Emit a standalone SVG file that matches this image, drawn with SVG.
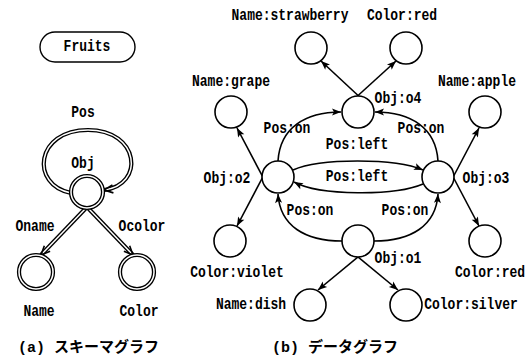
<svg xmlns="http://www.w3.org/2000/svg" width="532" height="363" viewBox="0 0 532 363">
<style>
text{font-family:"Liberation Mono","DejaVu Sans Mono",monospace;font-size:13px;font-weight:bold;fill:#000;text-anchor:middle;dominant-baseline:central}
.cap{font-family:"Liberation Mono","Noto Sans CJK JP",monospace;font-size:15px;font-weight:bold;text-anchor:start}
.n{fill:#fff;stroke:#000;stroke-width:1.6}
.dk{fill:none;stroke:#000;stroke-width:4.2}
.dw{fill:none;stroke:#fff;stroke-width:1.5}
.e{fill:none;stroke:#000;stroke-width:1.6}
</style>
<defs>
<marker id="a" markerUnits="userSpaceOnUse" markerWidth="20" markerHeight="20" viewBox="-10 -10 20 20" refX="0" refY="0" orient="auto" overflow="visible">
<path d="M-9,-3.5 L0,0 L-9,3.5 L-7,0 z" fill="#000"/>
</marker>
<marker id="v" markerUnits="userSpaceOnUse" markerWidth="20" markerHeight="20" viewBox="-10 -10 20 20" refX="0" refY="0" orient="auto" overflow="visible">
<path d="M-9,-4 L0,0 L-9,4" fill="none" stroke="#000" stroke-width="1.6"/>
</marker>
</defs>

<!-- (a) schema graph -->
<g id="fruits">
<rect x="40" y="32" width="95" height="30" rx="15" ry="15" fill="none" stroke="#000" stroke-width="1.4"/>
<text transform="translate(87,47) scale(1,1.3)">Fruits</text>
</g>
<g id="schema-connectors">
<path class="dk" d="M71,193 C 30,185 35,130 88,130 C 140,130 145,185 104,190"/>
<path class="dw" d="M71,193 C 30,185 35,130 88,130 C 140,130 145,185 104,190" marker-end="url(#v)"/>
<path class="dk" d="M86,208 L41,255"/>
<path class="dw" d="M86,208 L41,255" marker-end="url(#v)"/>
<path class="dk" d="M88,208 L133,255"/>
<path class="dw" d="M88,208 L133,255" marker-end="url(#v)"/>
<text transform="translate(83,113) scale(1,1.3)">Pos</text>
<text transform="translate(35,227) scale(1,1.3)">Oname</text>
<text transform="translate(142,227) scale(1,1.3)">Ocolor</text>
</g>
<g id="obj">
<circle cx="87" cy="192" r="16" fill="#fff" class="dk"/>
<circle cx="87" cy="192" r="16" class="dw"/>
<text transform="translate(83,164) scale(1,1.3)">Obj</text>
</g>
<g id="name">
<circle cx="36" cy="272" r="17" fill="#fff" class="dk"/>
<circle cx="36" cy="272" r="17" class="dw"/>
<text transform="translate(39,312) scale(1,1.3)">Name</text>
</g>
<g id="color">
<circle cx="137" cy="272" r="17" fill="#fff" class="dk"/>
<circle cx="137" cy="272" r="17" class="dw"/>
<text transform="translate(139,312) scale(1,1.3)">Color</text>
</g>
<text class="cap" x="18" y="348">(a) スキーマグラフ</text>

<!-- (b) data graph -->
<g id="connectors">
<path class="e" d="M364,101 L321,61" marker-end="url(#a)"/>
<path class="e" d="M352,101 L396,61" marker-end="url(#a)"/>
<path class="e" d="M266,183 L237,128" marker-end="url(#a)"/>
<path class="e" d="M266,171 L237,226" marker-end="url(#a)"/>
<path class="e" d="M450,183 L479,128" marker-end="url(#a)"/>
<path class="e" d="M450,171 L479,226" marker-end="url(#a)"/>
<path class="e" d="M364,252 L318,290" marker-end="url(#a)"/>
<path class="e" d="M352,252 L398,290" marker-end="url(#a)"/>
<path class="e" d="M278,161 C 280,128 305,112 341,112" marker-end="url(#a)"/>
<path class="e" d="M438,161 C 436,128 411,112 375,112" marker-end="url(#a)"/>
<path class="e" d="M342,241 C 305,241 280,226 278,194" marker-end="url(#a)"/>
<path class="e" d="M374,241 C 411,241 436,226 438,194" marker-end="url(#a)"/>
<path class="e" d="M293,170 C 320,158 395,158 423,170" marker-end="url(#a)"/>
<path class="e" d="M423,184 C 395,196 320,196 294,182" marker-end="url(#a)"/>
<text transform="translate(287,129) scale(1,1.3)">Pos:on</text>
<text transform="translate(421,129) scale(1,1.3)">Pos:on</text>
<text transform="translate(357,145) scale(1,1.3)">Pos:left</text>
<text transform="translate(357,177) scale(1,1.3)">Pos:left</text>
<text transform="translate(310,211) scale(1,1.3)">Pos:on</text>
<text transform="translate(405,211) scale(1,1.3)">Pos:on</text>
</g>
<g id="strawberry">
<circle class="n" cx="311" cy="48" r="16"/>
<text transform="translate(290,16) scale(1,1.3)">Name:strawberry</text>
</g>
<g id="red-top">
<circle class="n" cx="406" cy="48" r="16"/>
<text transform="translate(402,16) scale(1,1.3)">Color:red</text>
</g>
<g id="grape">
<circle class="n" cx="231" cy="112" r="16"/>
<text transform="translate(231,82) scale(1,1.3)">Name:grape</text>
</g>
<g id="o4">
<circle class="n" cx="358" cy="112" r="16"/>
<text transform="translate(398,99) scale(1,1.3)">Obj:o4</text>
</g>
<g id="apple">
<circle class="n" cx="485" cy="112" r="16"/>
<text transform="translate(477,82) scale(1,1.3)">Name:apple</text>
</g>
<g id="o2">
<circle class="n" cx="278" cy="177" r="16"/>
<text transform="translate(227,179) scale(1,1.3)">Obj:o2</text>
</g>
<g id="o3">
<circle class="n" cx="438" cy="177" r="16"/>
<text transform="translate(486,179) scale(1,1.3)">Obj:o3</text>
</g>
<g id="violet">
<circle class="n" cx="230" cy="241" r="16"/>
<text transform="translate(237,273) scale(1,1.3)">Color:violet</text>
</g>
<g id="o1">
<circle class="n" cx="358" cy="241" r="16"/>
<text transform="translate(398,259) scale(1,1.3)">Obj:o1</text>
</g>
<g id="red-bottom">
<circle class="n" cx="485" cy="241" r="16"/>
<text transform="translate(490,273) scale(1,1.3)">Color:red</text>
</g>
<g id="dish">
<circle class="n" cx="310" cy="305" r="16"/>
<text transform="translate(251,305) scale(1,1.3)">Name:dish</text>
</g>
<g id="silver">
<circle class="n" cx="406" cy="305" r="16"/>
<text transform="translate(471,305) scale(1,1.3)">Color:silver</text>
</g>
<text class="cap" x="272" y="348">(b) データグラフ</text>
</svg>
